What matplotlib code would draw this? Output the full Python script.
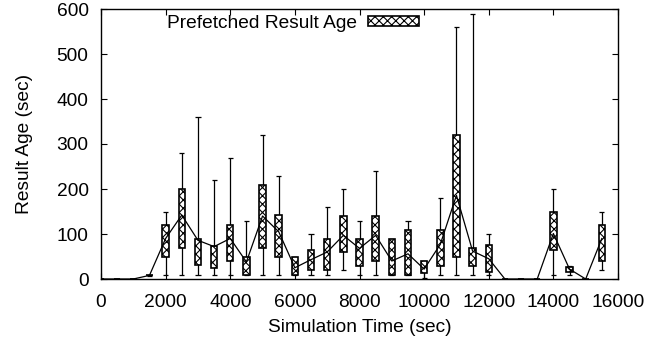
import matplotlib
matplotlib.use('Agg')
import matplotlib.pyplot as plt

times = [0, 500, 1000, 1500, 2000, 2500, 3000, 3500, 4000, 4500, 5000, 5500,
         6000, 6500, 7000, 7500, 8000, 8500, 9000, 9500, 10000, 10500, 11000,
         11500, 12000, 12500, 13000, 13500, 14000, 14500, 15000, 15500]
box_low = [0, 0, 0, 8, 50, 70, 32, 25, 40, 10, 70, 50,
           10, 20, 20, 60, 30, 40, 10, 10, 13, 30, 50,
           30, 16, 0, 0, 0, 65, 16, 0, 40]
box_high = [0, 0, 0, 10, 120, 200, 90, 74, 120, 50, 210, 142,
            50, 65, 90, 140, 90, 140, 90, 110, 40, 110, 320,
            70, 75, 0, 0, 0, 150, 26, 0, 120]
whisker_low = [0, 0, 0, 6, 10, 10, 10, 10, 10, 10, 10, 10,
               10, 10, 10, 20, 10, 10, 10, 10, 2, 10, 10,
               10, 10, 0, 0, 0, 10, 10, 0, 20]
whisker_high = [0, 0, 0, 10, 150, 280, 360, 220, 270, 130, 320, 230,
                50, 100, 160, 200, 130, 240, 90, 130, 40, 180, 560,
                590, 100, 0, 0, 0, 200, 30, 0, 150]
median = [0, 0, 0, 8, 90, 142, 86, 72, 90, 38, 140, 105,
          25, 43, 60, 97, 68, 97, 40, 56, 22, 77, 186,
          62, 45, 0, 0, 0, 101, 22, 0, 90]

x_ticks = [0, 2000, 4000, 6000, 8000, 10000, 12000, 14000, 16000]
y_ticks = [0, 100, 200, 300, 400, 500, 600]

plt.rcParams['font.family'] = ['Liberation Sans', 'DejaVu Sans']
plt.rcParams['hatch.linewidth'] = 0.8
FS = 13.8

fig = plt.figure(figsize=(6.62, 3.41), dpi=100)
ax = fig.add_axes([101/662, 1-279/341, (618-101)/662, (279-9)/341])

box_w = 200
cap_w = 160
for t, lo, hi, wl, wh in zip(times, box_low, box_high, whisker_low, whisker_high):
    col = 'black' if hi > 0 else '#aaaaaa'
    ax.vlines(t, wl, wh, color=col, lw=0.9, zorder=2)
    ax.hlines([wl, wh], t - cap_w/2, t + cap_w/2, color=col, lw=0.9, zorder=2)

ax.bar(times, [h - l for h, l in zip(box_high, box_low)], bottom=box_low,
       width=box_w, facecolor='white', edgecolor='black', linewidth=1.2,
       hatch='xxxx', zorder=3, label='Prefetched Result Age')
ax.plot(times, median, color='black', lw=0.9, zorder=4)

ax.set_xlim(0, 16000)
ax.set_ylim(0, 600)
ax.set_xticks(x_ticks)
ax.set_yticks(y_ticks)
ax.tick_params(direction='in', length=4.5, width=0.8, top=True, right=True,
               labelsize=FS)
ax.tick_params(axis='x', pad=10.5)
ax.tick_params(axis='y', pad=9)
for s in ax.spines.values():
    s.set_linewidth(1.0)
ax.set_xlabel('Simulation Time (sec)', fontsize=FS, labelpad=6)
ax.set_ylabel('Result Age (sec)', fontsize=FS, labelpad=17)

leg = ax.legend(loc='center right', bbox_to_anchor=(419/662, 1-23/341),
                bbox_transform=fig.transFigure, frameon=False, fontsize=FS,
                markerfirst=False, handlelength=2.65, handleheight=0.42,
                handletextpad=0.6, borderpad=0, borderaxespad=0)

fig.savefig('out.png', dpi=100)
